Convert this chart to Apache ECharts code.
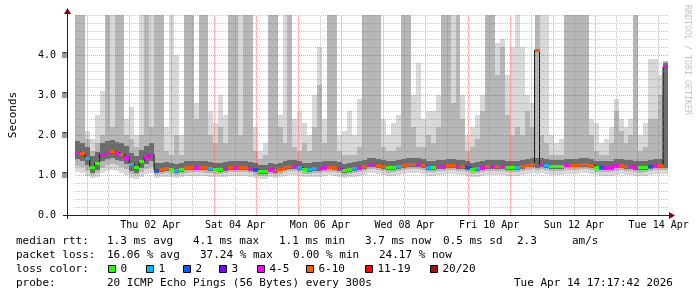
<!DOCTYPE html>
<html><head><meta charset="utf-8">
<script src="https://cdn.jsdelivr.net/npm/echarts@6/dist/echarts.min.js"></script>
<style>html,body{margin:0;padding:0;background:#fff}#c{width:697px;height:297px}</style>
</head><body><div id="c"></div>
<script>
// ---- time frame ----
const START_UTC = Date.UTC(2026, 2, 31, 17, 17, 42);
const SPAN_HOURS = 336;
const STEP_HOURS = 2.8;
const Y_MAX = 5;

// ---- median rtt (ms) per step ----
const median = [
 1.58,1.54,1.43,1.2,1.3,1.52,1.57,1.6,1.56,1.52,
 1.45,1.28,1.2,1.35,1.46,1.52,1.12,1.15,1.17,1.16,
 1.12,1.15,1.19,1.2,1.2,1.2,1.19,1.18,1.16,1.15,
 1.18,1.2,1.2,1.2,1.2,1.18,1.14,1.1,1.1,1.15,
 1.13,1.16,1.2,1.22,1.23,1.2,1.16,1.15,1.17,1.18,
 1.2,1.21,1.2,1.17,1.12,1.15,1.18,1.2,1.23,1.27,
 1.27,1.25,1.23,1.19,1.2,1.22,1.25,1.27,1.28,1.27,
 1.25,1.2,1.2,1.23,1.23,1.25,1.25,1.23,1.23,1.2,
 1.16,1.17,1.2,1.22,1.23,1.23,1.23,1.2,1.2,1.2,
 1.22,1.26,1.27,4.12,1.27,1.25,1.23,1.22,1.22,1.26,
 1.26,1.26,1.27,1.27,1.25,1.21,1.2,1.2,1.2,1.24,
 1.25,1.23,1.23,1.2,1.19,1.2,1.22,1.25,1.25,3.72];

// ---- loss class per step (index into lossLabels) ----
const lossClass = [
 4,5,1,0,0,4,4,5,4,5,
 4,1,0,0,4,4,2,5,5,0,
 1,0,5,5,4,5,5,1,0,0,
 4,5,4,5,5,4,2,0,0,4,
 5,5,5,5,4,1,0,1,1,4,
 4,5,5,4,0,0,1,4,5,4,
 4,5,5,0,0,1,5,5,5,4,
 5,1,0,4,4,5,5,4,5,2,
 0,1,4,5,4,5,4,0,0,1,
 5,5,5,5,4,1,0,0,0,4,
 5,5,5,5,5,0,2,4,4,4,
 5,5,4,4,0,0,2,4,5,4];

// ---- smoke bounds (ms) per step ----
const smokeLo = [
 1.08,1.05,0.98,0.92,0.95,1.05,1.1,1.12,1.1,1.06,
 1.0,0.92,0.9,0.95,1.02,1.05,0.92,0.94,0.96,0.95,
 0.92,0.94,0.97,0.98,0.98,0.98,0.97,0.96,0.95,0.94,
 0.96,0.98,0.98,0.98,0.98,0.96,0.93,0.9,0.89,0.94,
 0.92,0.95,0.98,1.0,1.0,0.98,0.95,0.94,0.96,0.96,
 0.98,0.99,0.98,0.95,0.92,0.94,0.96,0.98,1.0,1.04,
 1.04,1.02,1.0,0.97,0.98,1.0,1.02,1.04,1.05,1.04,
 1.02,0.98,0.98,1.0,1.0,1.02,1.02,1.0,1.0,0.98,
 0.95,0.95,0.98,1.0,1.0,1.0,1.0,0.98,0.98,0.98,
 1.0,1.03,1.04,1.02,1.04,1.02,1.0,1.0,1.0,1.03,
 1.03,1.03,1.04,1.04,1.02,0.99,0.98,0.98,0.98,1.01,
 1.02,1.0,1.0,0.98,0.97,0.98,1.0,1.02,1.02,1.02];
const smokeLoMid = [
 1.23,1.2,1.1,1.0,1.05,1.18,1.25,1.27,1.24,1.2,
 1.14,1.03,1.0,1.08,1.15,1.2,0.99,1.02,1.04,1.03,
 0.99,1.02,1.06,1.07,1.07,1.07,1.06,1.05,1.03,1.02,
 1.05,1.07,1.07,1.07,1.07,1.05,1.01,0.97,0.97,1.02,
 1.0,1.03,1.07,1.09,1.1,1.07,1.03,1.02,1.04,1.05,
 1.07,1.08,1.07,1.04,0.99,1.02,1.05,1.07,1.1,1.14,
 1.14,1.12,1.1,1.06,1.07,1.09,1.12,1.14,1.15,1.14,
 1.12,1.07,1.07,1.1,1.1,1.12,1.12,1.1,1.1,1.07,
 1.03,1.04,1.07,1.09,1.1,1.1,1.1,1.07,1.07,1.07,
 1.09,1.13,1.14,1.12,1.14,1.12,1.1,1.09,1.09,1.13,
 1.13,1.13,1.14,1.14,1.12,1.08,1.07,1.07,1.07,1.11,
 1.12,1.1,1.1,1.07,1.06,1.07,1.09,1.12,1.12,1.12];
const smokeLoDark = [
 1.4,1.36,1.25,1.04,1.12,1.34,1.39,1.42,1.38,1.34,
 1.27,1.1,1.04,1.17,1.28,1.34,1.05,1.08,1.1,1.09,
 1.05,1.08,1.12,1.13,1.13,1.13,1.12,1.11,1.09,1.08,
 1.11,1.13,1.13,1.13,1.13,1.11,1.07,1.03,1.03,1.08,
 1.06,1.09,1.13,1.15,1.16,1.13,1.09,1.08,1.1,1.11,
 1.13,1.14,1.13,1.1,1.05,1.08,1.11,1.13,1.16,1.2,
 1.2,1.18,1.16,1.12,1.13,1.15,1.18,1.2,1.21,1.2,
 1.18,1.13,1.13,1.16,1.16,1.18,1.18,1.16,1.16,1.13,
 1.09,1.1,1.13,1.15,1.16,1.16,1.16,1.13,1.13,1.13,
 1.15,1.19,1.2,1.18,1.2,1.18,1.16,1.15,1.15,1.19,
 1.19,1.19,1.2,1.2,1.18,1.14,1.13,1.13,1.13,1.17,
 1.18,1.16,1.16,1.13,1.12,1.13,1.15,1.18,1.18,1.18];
const smokeHiDark = [
 1.85,1.81,1.7,1.47,1.57,1.79,1.84,1.87,1.83,1.79,
 1.72,1.55,1.47,1.62,1.73,1.79,1.3,1.3,1.32,1.31,
 1.27,1.3,1.34,1.35,1.35,1.35,1.34,1.33,1.31,1.3,
 1.33,1.35,1.35,1.35,1.35,1.33,1.29,1.25,1.24,1.3,
 1.28,1.31,1.35,1.37,1.38,1.35,1.31,1.3,1.32,1.33,
 1.35,1.36,1.35,1.32,1.27,1.3,1.33,1.35,1.38,1.42,
 1.42,1.4,1.38,1.34,1.35,1.37,1.4,1.42,1.43,1.42,
 1.4,1.35,1.35,1.38,1.38,1.4,1.4,1.38,1.38,1.35,
 1.31,1.32,1.35,1.37,1.38,1.38,1.38,1.35,1.35,1.35,
 1.37,1.41,1.42,1.42,1.42,1.4,1.38,1.37,1.37,1.41,
 1.41,1.41,1.42,1.42,1.4,1.36,1.35,1.35,1.35,1.39,
 1.4,1.38,1.38,1.35,1.34,1.35,1.37,1.4,1.4,3.8];
const smokeHiMid = [
 6,6,1.9,1.6,1.8,2.0,6,2.2,6,6,
 2.0,1.9,1.7,2.0,6,2.2,6,6,1.6,1.5,
 2.0,1.5,6,6,2.4,6,6,2.0,1.8,2.2,
 1.8,6,6,2.0,6,6,1.6,1.4,1.5,6,
 6,2.2,1.8,6,1.7,1.6,1.8,1.6,2.2,3.25,
 1.8,6,6,1.6,1.5,1.5,1.5,1.7,6,6,
 6,6,1.7,1.6,1.6,1.7,6,6,2.2,1.7,
 1.7,2.0,1.8,2.2,6,6,2.8,6,2.4,1.6,
 1.7,1.9,2.6,6,6,3.5,4.2,2.5,2.0,2.2,
 2.0,2.6,2.2,6,2.0,1.8,1.5,1.5,1.5,6,
 6,6,6,6,2.0,1.6,1.5,1.5,1.8,2.6,
 2.1,1.8,2.0,6,1.6,1.7,2.4,2.4,3.0,3.85];
const smokeHiLight = [
 6,6,2.1,1.9,2.5,3.1,6,6,6,6,
 2.4,2.7,2.0,6,6,6,6,6,2.2,6,
 4.0,2.0,6,6,2.8,6,6,2.6,2.3,3.0,
 2.5,6,6,6,6,6,2.2,1.6,1.8,6,
 6,2.5,6,6,2.4,2.6,2.3,2.0,3.0,4.2,
 2.4,6,6,2.0,2.1,2.6,2.0,2.9,6,6,
 6,6,2.4,2.0,2.3,2.5,6,6,3.0,3.8,
 2.4,2.6,2.6,3.0,6,6,6,6,3.0,2.0,
 2.2,2.5,3.0,6,6,4.3,4.4,3.5,4.2,6,
 4.2,3.0,2.8,6,6,6,2.0,1.8,1.9,6,
 6,6,6,6,2.4,2.3,1.8,1.9,2.2,2.9,
 2.4,2.2,2.4,6,2.0,2.3,3.9,3.9,3.5,3.85];

// ---- legend / labels ----
const lossLabels = ['0','1','2','3','4-5','6-10','11-19','20/20'];
const lossColors = ['#26ff00','#00b8ff','#0059ff','#7e00ff','#ff00ff','#ff5500','#ff0000','#a01111'];
const xTickLabels = ['Thu 02 Apr','Sat 04 Apr','Mon 06 Apr','Wed 08 Apr','Fri 10 Apr','Sun 12 Apr','Tue 14 Apr'];
const xTickDates = [[2026,4,2,12],[2026,4,4,12],[2026,4,6,12],[2026,4,8,12],[2026,4,10,12],[2026,4,12,12],[2026,4,14,12]];
const gridDays = [1,2,3,4,5,6,7,8,9,10,11,12,13,14];
const yTicks = [0,1,2,3,4];
const rttTitle = 'median rtt:';
const rttStats = ['1.3 ms avg','4.1 ms max','1.1 ms min','3.7 ms now','0.5 ms sd','2.3','am/s'];
const lossTitle = 'packet loss:';
const lossStats = ['16.06 % avg','37.24 % max','0.00 % min','24.17 % now'];
const colorTitle = 'loss color:';
const probeTitle = 'probe:';
const probeText = '20 ICMP Echo Pings (56 Bytes) every 300s';
const stampText = 'Tue Apr 14 17:17:42 2026';
const yTitle = 'Seconds';
const watermark = 'RRDTOOL / TOBI OETIKER';

// ---- layout (pixels) ----
const rttX = [107,193,279,365,443,517,572];
const lossX = [107,200,293,379];
const boxX = [108,146,183,219,257,306,365,430];
const rowY = [241,255,269,283];

const FONT = 'DejaVu Sans Mono';
const LIGHT = '#d8d8d8', MID = '#b6b6b6', DARK = '#6c6c6c';
const hoursFrom = (y,m,d,h) => (Date.UTC(y,m-1,d,h) - START_UTC) / 3600000;
const xTickHours = xTickDates.map(d => hoursFrom(...d));

const smokeData = median.map((_, i) => [i*STEP_HOURS, smokeLo[i], smokeLoMid[i], smokeLoDark[i], smokeHiDark[i], smokeHiMid[i], smokeHiLight[i]]);
const medData = median.map((v, i) => [i*STEP_HOURS, v, lossClass[i]]);
const stepData = median.map((v, i) => [i*STEP_HOURS + STEP_HOURS/2, v]);

function smokeItem(params, api) {
  const t0 = api.value(0), t1 = t0 + STEP_HOURS;
  const xa = Math.round(api.coord([t0, 0])[0]);
  const xb = Math.round(api.coord([t1, 0])[0]);
  const yy = v => Math.round(api.coord([t0, Math.min(v, Y_MAX)])[1]);
  const band = (a, b, fill) => ({type:'rect', shape:{x:xa, y:yy(b), width:xb-xa, height:yy(a)-yy(b)}, style:{fill}});
  return {type:'group', children:[
    band(api.value(1), api.value(6), LIGHT),
    band(api.value(2), api.value(5), MID),
    band(api.value(3), api.value(4), DARK)
  ]};
}
function medItem(params, api) {
  const t0 = api.value(0), t1 = t0 + STEP_HOURS;
  const xa = Math.round(api.coord([t0, 0])[0]);
  const xb = Math.round(api.coord([t1, 0])[0]);
  const y = Math.round(api.coord([t0, api.value(1)])[1]);
  return {type:'rect', shape:{x:xa, y:y-1, width:xb-xa, height:3}, style:{fill:lossColors[api.value(2)]}};
}

const MINOR = 'rgba(128,128,128,0.45)', MAJOR = 'rgba(255,0,0,0.38)';
const gridLines = [];
for (let k = 1; k <= 25; k++) {
  const v = k/5;
  gridLines.push({yAxis:v, lineStyle:{color:(k % 5 === 0 && k < 25) ? MAJOR : MINOR, type:[1,1], width:1}});
}
gridDays.forEach(d => {
  gridLines.push({xAxis:hoursFrom(2026,4,d,12), lineStyle:{color:MINOR, type:[1,1], width:1}});
  gridLines.push({xAxis:hoursFrom(2026,4,d,0), lineStyle:{color:MAJOR, type:[1,1], width:1}});
});

const T = (x, y, s, size, extra) => ({type:'text', x, y, silent:true, style:Object.assign({text:s, fontFamily:FONT, fontSize:size, fill:'#000', verticalAlign:'middle', align:'left'}, extra||{})});
const graphics = [
  {type:'polygon', silent:true, shape:{points:[[67.5,8],[64,14],[71,14]]}, style:{fill:'#8b0000'}},
  {type:'polygon', silent:true, shape:{points:[[675,215.5],[669,212],[669,219]]}, style:{fill:'#8b0000'}},
  {type:'line', silent:true, shape:{x1:63,y1:215.5,x2:669,y2:215.5}, style:{stroke:'#222', lineWidth:1}},
  {type:'line', silent:true, shape:{x1:67.5,y1:219,x2:67.5,y2:13}, style:{stroke:'#222', lineWidth:1}},
  {type:'text', x:687, y:5, rotation:-Math.PI/2, silent:true, style:{text:watermark, fontFamily:FONT, fontSize:8.3, fill:'#c4c4c4', align:'left', verticalAlign:'middle'}},
  T(16, rowY[0], rttTitle, 11),
  T(16, rowY[1], lossTitle, 11),
  T(16, rowY[2], colorTitle, 11),
  T(16, rowY[3], probeTitle, 11),
  T(107, rowY[3], probeText, 11),
  T(514, rowY[3], stampText, 11)
];
rttStats.forEach((s, i) => graphics.push(T(rttX[i], rowY[0], s, 11)));
lossStats.forEach((s, i) => graphics.push(T(lossX[i], rowY[1], s, 11)));
lossLabels.forEach((s, i) => {
  graphics.push({type:'rect', silent:true, shape:{x:boxX[i]+0.5, y:rowY[2]-3.5, width:7, height:7}, style:{fill:lossColors[i], stroke:'#000', lineWidth:1}});
  graphics.push(T(boxX[i]+12.5, rowY[2], s, 11));
});

const chart = echarts.init(document.getElementById('c'), null, {renderer:'canvas', width:697, height:297});
chart.setOption({
  animation:false,
  backgroundColor:'#ffffff',
  grid:{left:67, top:15, width:601, height:200, containLabel:false},
  xAxis:{type:'value', min:0, max:SPAN_HOURS,
    axisLine:{show:false}, axisTick:{show:false}, splitLine:{show:false},
    axisLabel:{customValues:xTickHours, margin:5, fontFamily:FONT, fontSize:10, color:'#000',
      formatter:v => { const k = xTickHours.findIndex(h => Math.abs(h - v) < 0.01); return k >= 0 ? xTickLabels[k] : ''; }}},
  yAxis:{type:'value', min:0, max:Y_MAX, interval:1,
    name:yTitle, nameLocation:'middle', nameRotate:90, nameGap:56,
    nameTextStyle:{fontFamily:FONT, fontSize:11, color:'#000'},
    axisLine:{show:false}, axisTick:{show:false}, splitLine:{show:false},
    axisLabel:{align:'left', margin:37, fontFamily:FONT, fontSize:10, color:'#000',
      formatter:v => (yTicks.indexOf(v) < 0 ? '' : (v === 0 ? '0.0' : v.toFixed(1) + ' m'))}},
  series:[
    {type:'custom', name:'smoke', data:smokeData, renderItem:smokeItem, clip:true, z:1, silent:true,
      encode:{x:0, y:[1,6]}},
    {type:'line', name:'grid', data:[], z:3, silent:true,
      markLine:{silent:true, symbol:['none','none'], label:{show:false}, animation:false, emphasis:{disabled:true}, data:gridLines}},
    {type:'line', name:'median', data:stepData, step:'middle', showSymbol:false, symbol:'none', z:4, silent:true,
      lineStyle:{color:'#111', width:1}},
    {type:'custom', name:'loss', data:medData, renderItem:medItem, clip:true, z:5, silent:true,
      encode:{x:0, y:1}}
  ],
  graphic:graphics
});
</script></body></html>
